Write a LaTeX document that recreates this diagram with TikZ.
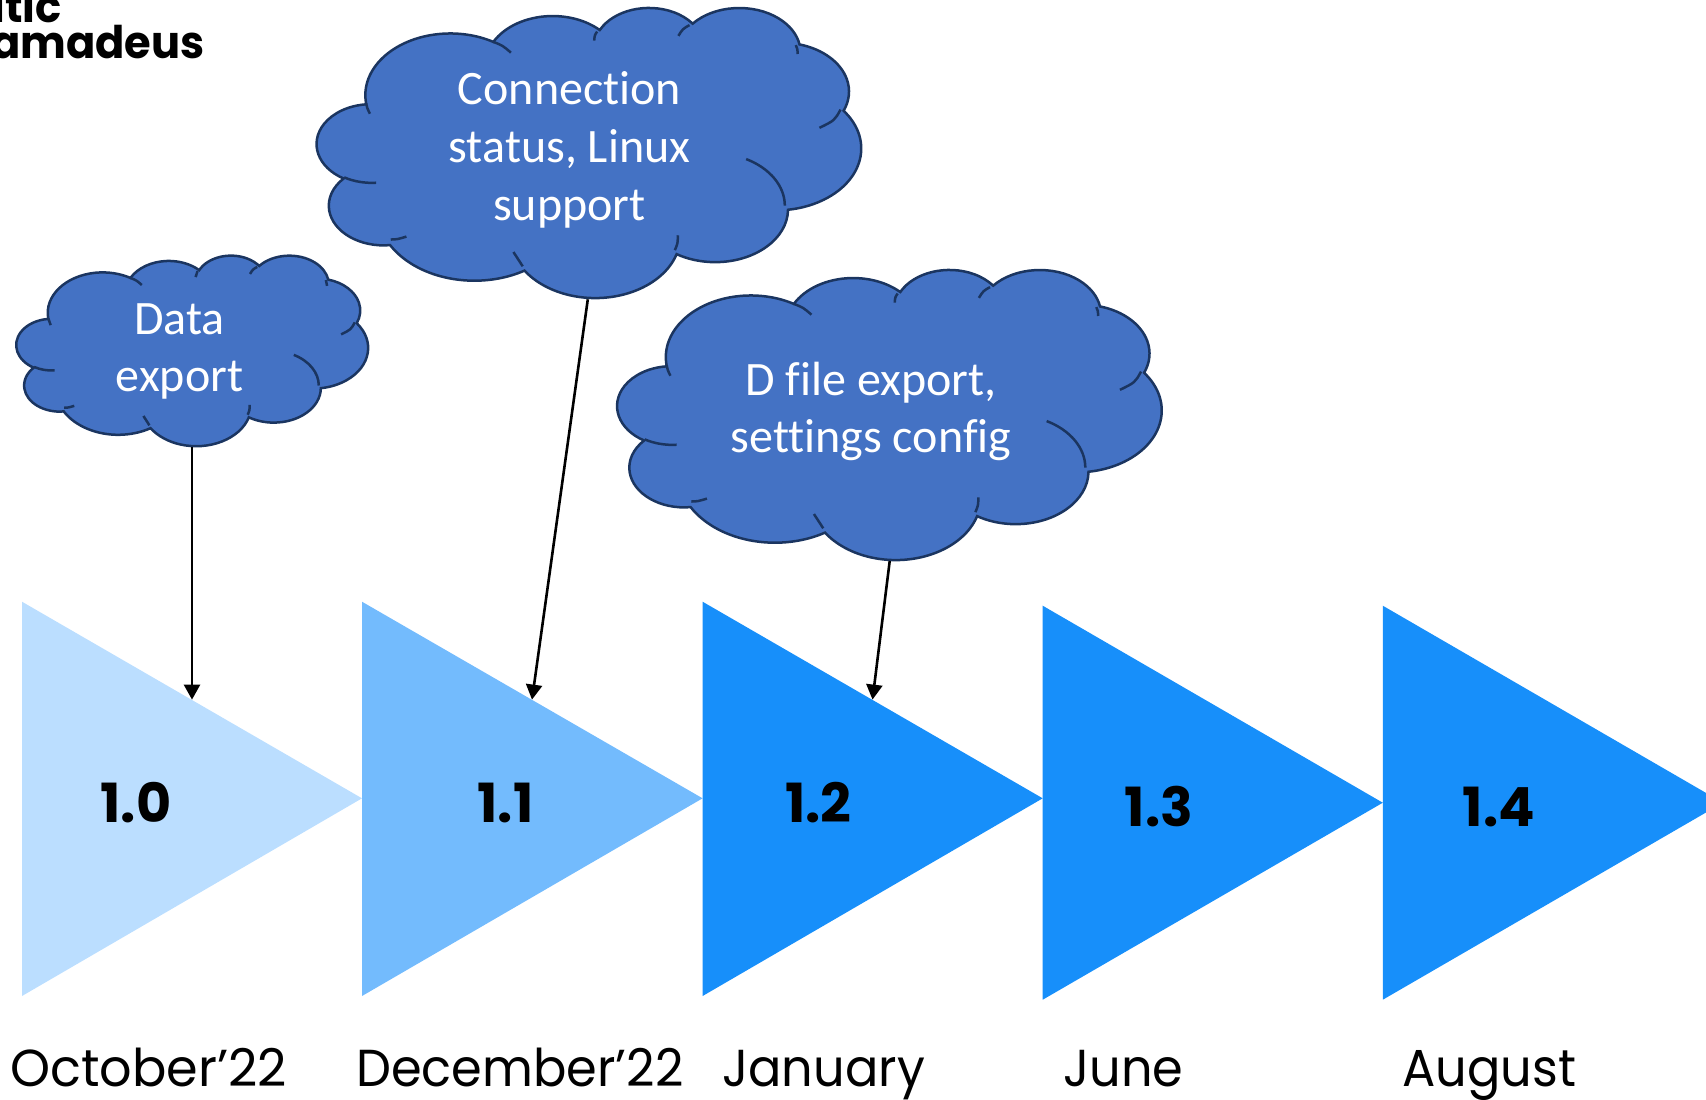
\documentclass[tikz,border=0pt]{standalone}
\usepackage{fontspec}
\setmainfont{Poppins}
\newfontfamily\cloudfont[Ligatures=NoCommon]{Carlito}
\newfontfamily\datefont[FakeStretch=0.95]{Poppins}
\newfontfamily\logofont[FakeStretch=0.96]{Poppins}
\usetikzlibrary{arrows.meta}
\definecolor{triA}{HTML}{BBDEFF}
\definecolor{triB}{HTML}{73BBFD}
\definecolor{triC}{HTML}{178FFA}
\definecolor{cloudfill}{HTML}{4472C4}
\definecolor{cloudline}{HTML}{1B3560}
\tikzset{
  cloudbody/.style={fill=cloudfill,draw=cloudline,line width=1.25pt},
  cloudtail/.style={draw=cloudline,line width=1.25pt},
  cloudtext/.style={text=white,font=\cloudfont\fontsize{24}{28.8}\selectfont,align=center,anchor=base,inner sep=0pt},
  version/.style={font=\bfseries\fontsize{27}{30}\selectfont,anchor=center,inner sep=0pt},
  datelabel/.style={font=\datefont\fontsize{26}{30}\selectfont,anchor=base west,inner sep=0pt},
  logo/.style={font=\logofont\bfseries\fontsize{22.5}{26}\selectfont,anchor=base east,inner sep=0pt},
  pointer/.style={line width=1.3pt,-{Triangle[length=7.5pt,width=8pt]}}
}
\newcommand\lobe[4]{arc[x radius=#1,y radius=#2,start angle={atan2(#1*sin(#3),#2*cos(#3))},delta angle={mod(atan2(#1*sin(#3+#4),#2*cos(#3+#4))-atan2(#1*sin(#3),#2*cos(#3))+720,360)}]}
\newcommand\cloudshape[4]{%
\begin{scope}[shift={(#1,#2)},xscale=#3/43.2,yscale=#4/43.2]
\path[cloudbody] (3.9,14.37)
 \lobe{6.753}{9.190}{-190.487}{123.780}
 \lobe{5.333}{7.267}{-144.102}{89.945}
 \lobe{4.365}{5.945}{-145.808}{99.723}
 \lobe{4.857}{6.595}{-130.986}{117.242}
 \lobe{5.333}{7.273}{-78.709}{109.027}
 \lobe{6.775}{9.220}{-46.267}{130.269}
 \lobe{5.785}{7.867}{0.625}{114.033}
 \lobe{6.752}{9.215}{22.452}{115.173}
 \lobe{7.720}{10.543}{66.243}{75.711}
 \lobe{4.360}{5.918}{-274.942}{146.736}
 \lobe{4.345}{5.945}{-246.829}{152.519}
 -- cycle;
\draw[cloudtail] (14.008,5.197) .. controls (14.75,5.75) .. (15.4,6.8);
\draw[cloudtail] (22.246,3.66) .. controls (22.05,4.2) .. (22.013,5.0);
\draw[cloudtail] (29.582,2.699) .. controls (29.05,3.25) .. (28.7,4.3);
\draw[cloudtail] (38.023,5.677) .. controls (38.15,6.2) .. (38.169,7.0);
\draw[cloudtail] (41.575,15.283) .. controls (41.1,16.9) .. (39.9,18.0);
\draw[cloudtail] (37.15,29.596) arc[x radius=5.785,y radius=7.867,start angle=0,delta angle=-62];
\draw[cloudtail] (28.417,36.224) .. controls (28.65,35.2) .. (28.65,34.0);
\draw[cloudtail] (16.337,38.625) .. controls (15.95,37.7) .. (15.6,36.5);
\draw[cloudtail] (5.857,34.639) .. controls (6.4,34.6) .. (7.1,34.2);
\draw[cloudtail] (4.693,26.177) \lobe{4.345}{5.945}{86.742}{26.43};
\draw[cloudtail] (3.907,14.37) .. controls (3.97,15.0) .. (4.2,15.9);
\end{scope}}
\begin{document}
\begin{tikzpicture}[x=0.5pt,y=-0.5pt]
\useasboundingbox (0,0) rectangle (1706,1099);
\clip (0,0) rectangle (1706,1099);
% triangles
\fill[triA] (22,601.7) -- (362,798.3) -- (22,996) -- cycle;
\fill[triB] (362,601.7) -- (702.6,798.3) -- (362,996) -- cycle;
\fill[triC] (702.6,601.7) -- (1042.7,798.3) -- (702.6,996) -- cycle;
\fill[triC] (1042.7,605.7) -- (1382.8,802.7) -- (1042.7,999.7) -- cycle;
\fill[triC] (1382.8,605.7) -- (1722.9,802.7) -- (1382.8,999.7) -- cycle;
% clouds
\cloudshape{16.5}{255}{351.5}{190.5}
\cloudshape{317}{7}{544}{290}
\cloudshape{617.5}{269}{544}{290}
% cloud labels
\node[cloudtext] (cloudA) at (179.6,391.7) {Data\\export};
\node[cloudtext] (cloudB) at (569.5,220) {Connection\\status, Linux\\support};
\node[cloudtext] (cloudC) at (871,452.7) {D file export,\\settings config};
% connector ends
\coordinate (fromA) at (192,446.7);
\coordinate (toA) at (192,699.6);
\coordinate (fromB) at (587.8,299.3);
\coordinate (toB) at (532,699.6);
\coordinate (fromC) at (889.7,561);
\coordinate (toC) at (872.5,699.6);
\draw[pointer] (fromA) -- (toA);
\draw[pointer] (fromB) -- (toB);
\draw[pointer] (fromC) -- (toC);
% versions
\node[version] (vA) at (136,802.5) {1.0};
\node[version] (vB) at (505.5,802.5) {1.1};
\node[version] (vC) at (818.2,802.5) {1.2};
\node[version] (vD) at (1159,806.5) {1.3};
\node[version] (vE) at (1499,806.5) {1.4};
% dates
\node[datelabel] (dA) at (10,1086.7) {\scalebox{1.03}[1]{October’22}};
\node[datelabel] (dB) at (356,1086.7) {December’22};
\node[datelabel] (dC) at (722,1086.7) {January};
\node[datelabel] (dD) at (1063,1086.7) {June};
\node[datelabel] (dE) at (1402,1086.7) {August};
% logo
\node[logo] (logoA) at (62,22.7) {ltic};
\node[logo] (logoB) at (205,58) {amadeus};
\end{tikzpicture}
\end{document}
